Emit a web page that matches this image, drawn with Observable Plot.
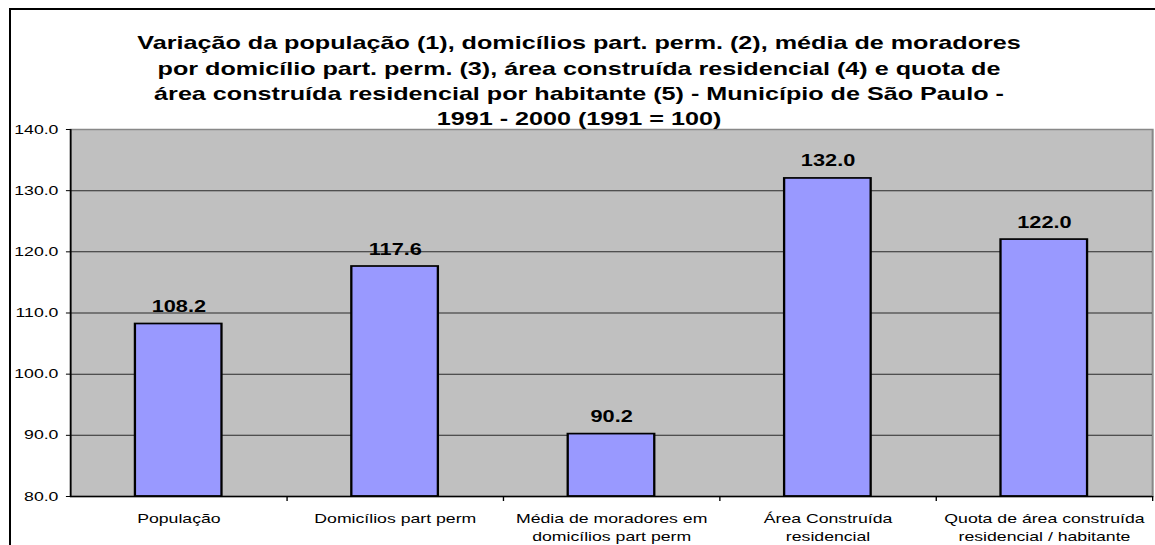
<!DOCTYPE html>
<html>
<head>
<meta charset="utf-8">
<script src="https://cdn.jsdelivr.net/npm/d3@7"></script>
<script src="https://cdn.jsdelivr.net/npm/@observablehq/plot@0.6"></script>
<style>
  html, body { margin: 0; padding: 0; background: #fff; }
  #wrap { position: relative; width: 1155px; height: 545px; overflow: hidden; }
  #border { position: absolute; left: 9px; top: 8px; width: 1200px; height: 600px;
            border-left: 2px solid #000; border-top: 2px solid #000; box-sizing: border-box; }
  #chart { position: absolute; left: 0; top: 0; transform-origin: 0 0; }
  svg { font-family: Arial, "Liberation Sans", sans-serif; }
</style>
</head>
<body>
<div id="wrap"><div id="border"></div><div id="chart"></div></div>
<script>
const categories = [
  "População",
  "Domicílios part perm",
  "Média de moradores em\ndomicílios part perm",
  "Área Construída\nresidencial",
  "Quota de área construída\nresidencial / habitante"
];
const values = [108.2, 117.6, 90.2, 132.0, 122.0];
const yTicks = [80, 90, 100, 110, 120, 130, 140];
const titleLines = [
  "Variação da população (1), domicílios part. perm. (2), média de moradores",
  "por domicílio part. perm. (3), área construída residencial (4) e quota de",
  "área construída residencial por habitante (5) - Município de São Paulo -",
  "1991 - 2000 (1991 = 100)"
];

// the reference chart is horizontally stretched; reproduce that with a scaleX
const SX = 1.36;
const W = 1155, H = 545;
const Wi = W / SX;
const mL = 70 / SX, mR = 3 / SX, mT = 129, mB = 49;
const step = (Wi - mL - mR) / categories.length;
const inset = step * 0.3;

const data = categories.map((c, i) => ({cat: c, i, value: values[i]}));

const chart = Plot.plot({
  width: Wi,
  height: H,
  marginLeft: mL,
  marginRight: mR,
  marginTop: mT,
  marginBottom: mB,
  style: {fontFamily: "Arial, 'Liberation Sans', sans-serif", background: "transparent", overflow: "visible"},
  x: {type: "linear", domain: [0, categories.length], axis: null},
  y: {domain: [80, 140], axis: null},
  marks: [
    Plot.frame({fill: "#C0C0C0", stroke: "#888", strokeWidth: 1.5}),
    Plot.ruleY(yTicks.slice(1, -1), {stroke: "#2a2a2a", strokeWidth: 1}),
    Plot.rectY(data, {
      x1: "i", x2: d => d.i + 1, y1: 80, y2: "value",
      insetLeft: inset, insetRight: inset,
      fill: "#9999FF", stroke: "#000", strokeWidth: 1.7
    }),
    Plot.ruleY([80], {stroke: "#000", strokeWidth: 1.5}),
    Plot.ruleX([0], {stroke: "#000", strokeWidth: 1.2}),
    Plot.axisY({ticks: yTicks, tickSize: 3, tickPadding: 6, tickFormat: d3.format(".1f"),
      fontSize: 13, fill: "#000", stroke: "#000", label: null}),
    Plot.axisX({ticks: d3.range(1, categories.length + 1), tickSize: 5, tickFormat: () => "",
      stroke: "#000", label: null}),
    Plot.text(data, {
      x: d => d.i + 0.5, y: 80, text: "cat", lineAnchor: "top",
      dy: 14, fontSize: 13, lineHeight: 1.38, fill: "#000"
    }),
    Plot.text(data, {
      x: d => d.i + 0.5, y: "value", text: d => d3.format(".1f")(d.value),
      lineAnchor: "bottom", dy: -12, fontSize: 16, fontWeight: "bold", fill: "#000"
    }),
    Plot.text([titleLines.join("\n")], {
      frameAnchor: "top", lineAnchor: "top", dx: -24, dy: -98,
      fontSize: 18.5, fontWeight: "bold", lineHeight: 1.36, fill: "#000"
    })
  ]
});
const holder = document.getElementById("chart");
holder.style.transform = `scaleX(${SX})`;
holder.appendChild(chart);
</script>
</body>
</html>
